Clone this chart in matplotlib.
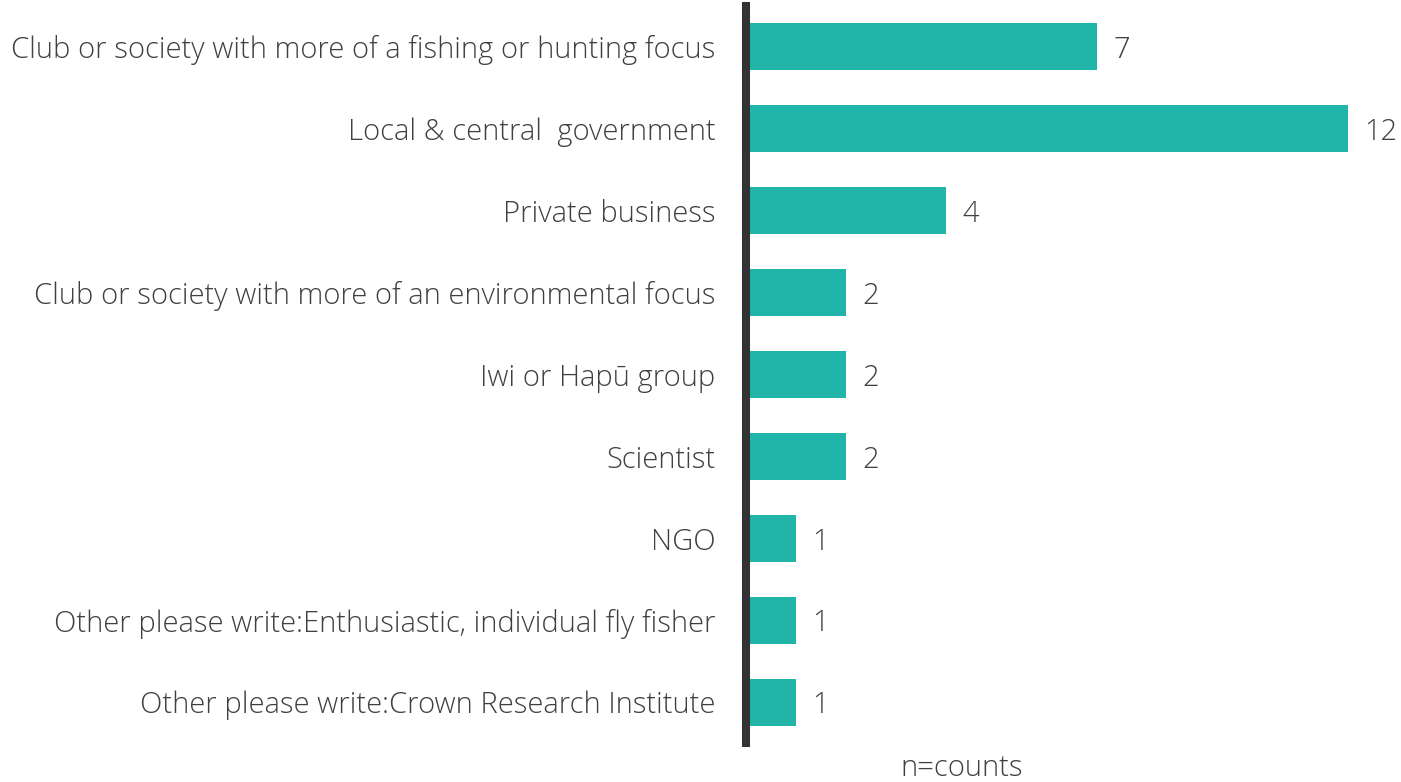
import matplotlib
matplotlib.use("Agg")
import matplotlib.pyplot as plt

categories = [
    "Club or society with more of a fishing or hunting focus",
    "Local & central  government",
    "Private business",
    "Club or society with more of an environmental focus",
    "Iwi or Hapū group",
    "Scientist",
    "NGO",
    "Other please write:Enthusiastic, individual fly fisher",
    "Other please write:Crown Research Institute",
]
counts = [7, 12, 4, 2, 2, 2, 1, 1, 1]
xlabel = "n=counts"

BAR = "#21B5A9"
TXT = "#404040"
FONT = "Open Sans"
FS = 21
W = "light"

fig = plt.figure(figsize=(14.01, 7.82), dpi=100)
ax = fig.add_axes([745.5 / 1401, 1 - 743 / 782, (1398 - 745.5) / 1401, (743 - 6) / 782])

y = list(range(len(categories)))
ax.barh(y, counts, height=0.575, color=BAR, zorder=2)
ax.set_ylim(len(categories) - 0.5, -0.5)
ax.set_xlim(0, 13)

for yi, v in zip(y, counts):
    ax.annotate(str(v), (v, yi), xytext=(12, 0), textcoords="offset points",
                va="center_baseline", ha="left", fontsize=FS, color=TXT, family=FONT, fontweight=W)

ax.set_yticks(y)
ax.set_yticklabels(categories, fontsize=FS, color=TXT, family=FONT, fontweight=W)
ax.tick_params(axis="y", length=0, pad=21.5)
ax.set_xticks([])
for s in ["top", "right", "bottom"]:
    ax.spines[s].set_visible(False)
ax.spines["left"].set_linewidth(5.8)
ax.spines["left"].set_color("#333333")
ax.spines["left"].set_zorder(3)

fig.text(962 / 1401, 1 - 768 / 782, xlabel, ha="center", va="center",
         fontsize=FS, color=TXT, family=FONT, fontweight=W)

fig.savefig("out.png", dpi=100)
